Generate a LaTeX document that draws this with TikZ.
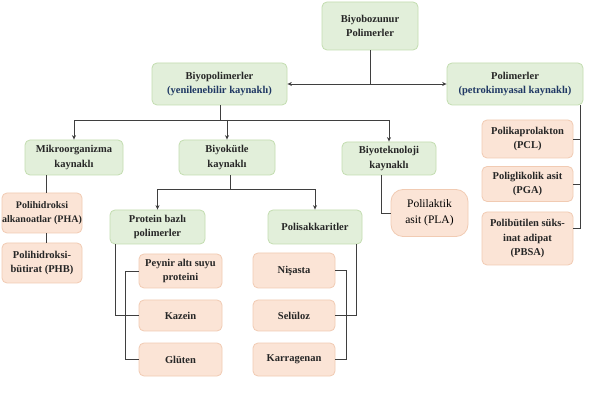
\documentclass[tikz,border=0pt]{standalone}
\usepackage{fontspec}
\setmainfont{Liberation Serif}
\usetikzlibrary{arrows.meta}
\definecolor{gfill}{HTML}{E2EFDA}
\definecolor{gdraw}{HTML}{C3DDB0}
\definecolor{sfill}{HTML}{FBE4D6}
\definecolor{sdraw}{HTML}{F1CBB3}
\definecolor{txt}{HTML}{262626}
\definecolor{navy}{HTML}{1F3864}
\definecolor{ln}{HTML}{3F3F3F}
\begin{document}
\begin{tikzpicture}[x=1pt,y=-1pt,
  box/.style={rounded corners=5pt, align=center, inner sep=0pt, line width=0.8pt,
    font=\fontsize{10.5}{14.5}\selectfont\bfseries, text=txt},
  gbox/.style={box, fill=gfill, draw=gdraw},
  sbox/.style={box, fill=sfill, draw=sdraw},
  sz/.style 2 args={minimum width=#1, minimum height=#2},
  conn/.style={draw=ln, line width=0.9pt},
  arr/.style={conn, -{Stealth[length=4.5pt,width=4pt]}}]
\path[use as bounding box, fill=white] (0,0) rectangle (589,403);

% nodes
\node[gbox, sz={96}{48}] (top) at (370,26) {Biyobozunur\\Polimerler};
\node[gbox, sz={135}{42}] (bio) at (219.5,84) {Biyopolimerler\\\textcolor{navy}{(yenilenebilir kaynaklı)}};
\node[gbox, sz={136}{42}] (pet) at (515,84) {Polimerler\\\textcolor{navy}{(petrokimyasal kaynaklı)}};
\node[gbox, sz={98}{35}] (mik) at (74,157.5) {Mikroorganizma\\kaynaklı};
\node[gbox, sz={96}{35}] (biyk) at (227,157.5) {Biyokütle\\kaynaklı};
\node[gbox, sz={94}{33}] (tek) at (389,158.5) {Biyoteknoloji\\kaynaklı};
\node[sbox, sz={77}{47}, rounded corners=12pt, text=black, font=\fontsize{11.5}{16}\selectfont] (pla) at (429.5,213) {Polilaktik\\asit (PLA)};
\node[sbox, sz={80}{40}, font=\fontsize{10}{14.5}\selectfont\bfseries] (pha) at (42,213) {Polihidroksi\\alkanoatlar (PHA)};
\node[sbox, sz={80}{40}] (phb) at (42,263) {Polihidroksi-\\bütirat (PHB)};
\node[gbox, sz={95}{34}] (prot) at (157.5,227) {Protein bazlı\\polimerler};
\node[gbox, sz={94}{34}] (pols) at (315,227) {Polisakkaritler};
\node[sbox, sz={83}{34}] (pey) at (180.5,271) {Peynir altı suyu\\proteini};
\node[sbox, sz={83}{31}] (kaz) at (180.5,315.5) {Kazein};
\node[sbox, sz={83}{33}] (glu) at (180.5,359.5) {Glüten};
\node[sbox, sz={82}{35}] (nis) at (294,270.5) {Nişasta};
\node[sbox, sz={82}{31}] (sel) at (294,315.5) {Selüloz};
\node[sbox, sz={82}{33}] (kar) at (294,359.5) {Karragenan};
\node[sbox, sz={91}{38}] (pcl) at (527.5,139) {Polikaprolakton\\(PCL)};
\node[sbox, sz={91}{35}] (pga) at (527.5,184) {Poliglikolik asit\\(PGA)};
\node[sbox, sz={91}{53}] (pbsa) at (527.5,238.5) {Polibütilen süks-\\inat adipat\\(PBSA)};

% connectors: top level
\coordinate (j0) at (top.south |- bio.east);
\draw[conn] (top.south) -- (j0);
\draw[arr] (j0) -- (bio.east);
\draw[arr] (j0) -- (pet.west);

% biyopolimerler branches
\coordinate (j1) at (220,120);
\draw[conn] (bio.south -| j1) -- (j1);
\draw[arr] (j1) -| (mik.north);
\draw[arr] (j1) -| (tek.north);
\draw[arr] (biyk.north |- j1) -- (biyk.north);

% mikroorganizma
\coordinate (m1) at ([xshift=4pt]pha.north);
\draw[conn] (m1 |- mik.south) -- (m1);
\draw[conn] ([xshift=4pt]pha.south) -- ([xshift=4pt]phb.north);

% biyokutle branches
\coordinate (j2) at (230,189);
\draw[conn] (biyk.south -| j2) -- (j2);
\draw[arr] (j2) -| (prot.north);
\draw[arr] (j2) -| (pols.north);

% biyoteknoloji
\draw[conn] ([xshift=-8pt]tek.south) |- (pla.west);

% protein
\draw[conn] ([xshift=6pt]prot.south west) |- (kaz.west);
\draw[conn] (pey.west) -- ++(-13,0) |- (glu.west);

% polisakkaritler
\draw[conn] ([xshift=-6pt]pols.south east) |- (sel.east);
\draw[conn] (nis.east) -- ++(11,0) |- (kar.east);

% petrokimyasal
\coordinate (ps) at ([xshift=-3pt]pet.south east);
\coordinate (pb) at ([yshift=10pt]pbsa.east);
\draw[conn] (ps) |- (pb);
\draw[conn] (pcl.east) -- (pcl.east -| ps);
\draw[conn] (pga.east) -- (pga.east -| ps);
\end{tikzpicture}
\end{document}
